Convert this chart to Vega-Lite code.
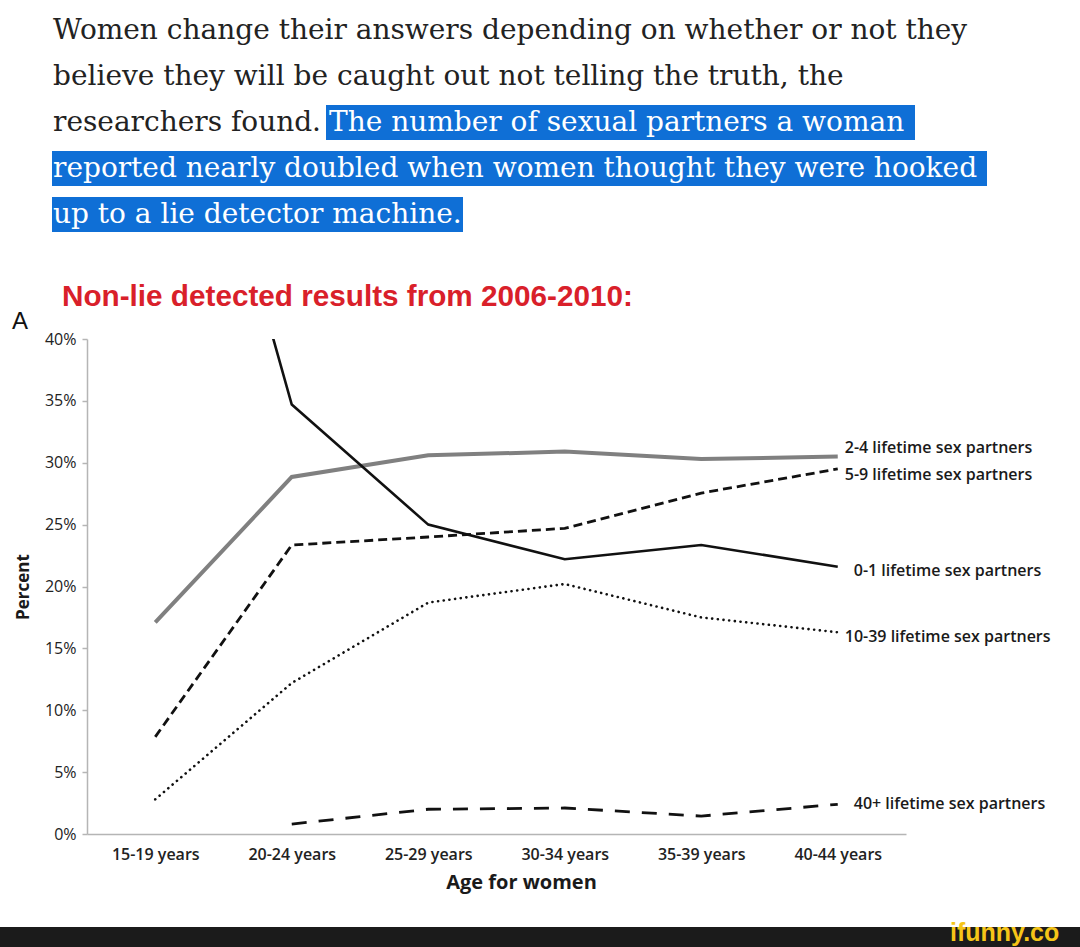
{
  "$schema": "https://vega.github.io/schema/vega-lite/v6.json",
  "width": 819,
  "height": 495,
  "autosize": "none",
  "padding": {"left": 87, "top": 339, "right": 174, "bottom": 113},
  "background": "white",
  "title": {
    "text": "Non-lie detected results from 2006-2010:",
    "anchor": "start",
    "frame": "group",
    "dx": -25,
    "offset": -296,
    "font": "Liberation Sans",
    "fontSize": 29.7,
    "fontWeight": "bold",
    "color": "#d9202a"
  },
  "config": {
    "view": {"stroke": null},
    "axis": {
      "domainColor": "#b5b5b5",
      "domainWidth": 1.5,
      "tickColor": "#b5b5b5",
      "tickWidth": 1.5,
      "grid": false,
      "labelFont": "Open Sans",
      "titleFont": "Open Sans",
      "labelColor": "#222222",
      "titleColor": "#1a1a1a"
    }
  },
  "datasets": {
    "rates": [
      {"age": "15-19 years", "series": "0-1", "pct": 74.0},
      {"age": "20-24 years", "series": "0-1", "pct": 34.7},
      {"age": "25-29 years", "series": "0-1", "pct": 25.0},
      {"age": "30-34 years", "series": "0-1", "pct": 22.2},
      {"age": "35-39 years", "series": "0-1", "pct": 23.35},
      {"age": "40-44 years", "series": "0-1", "pct": 21.6},
      {"age": "15-19 years", "series": "2-4", "pct": 17.1},
      {"age": "20-24 years", "series": "2-4", "pct": 28.85},
      {"age": "25-29 years", "series": "2-4", "pct": 30.6},
      {"age": "30-34 years", "series": "2-4", "pct": 30.9},
      {"age": "35-39 years", "series": "2-4", "pct": 30.3},
      {"age": "40-44 years", "series": "2-4", "pct": 30.5},
      {"age": "15-19 years", "series": "5-9", "pct": 7.85},
      {"age": "20-24 years", "series": "5-9", "pct": 23.35},
      {"age": "25-29 years", "series": "5-9", "pct": 24.0},
      {"age": "30-34 years", "series": "5-9", "pct": 24.7},
      {"age": "35-39 years", "series": "5-9", "pct": 27.55},
      {"age": "40-44 years", "series": "5-9", "pct": 29.5},
      {"age": "15-19 years", "series": "10-39", "pct": 2.8},
      {"age": "20-24 years", "series": "10-39", "pct": 12.2},
      {"age": "25-29 years", "series": "10-39", "pct": 18.7},
      {"age": "30-34 years", "series": "10-39", "pct": 20.2},
      {"age": "35-39 years", "series": "10-39", "pct": 17.5},
      {"age": "40-44 years", "series": "10-39", "pct": 16.3},
      {"age": "20-24 years", "series": "40+", "pct": 0.8},
      {"age": "25-29 years", "series": "40+", "pct": 2.0},
      {"age": "30-34 years", "series": "40+", "pct": 2.1},
      {"age": "35-39 years", "series": "40+", "pct": 1.45},
      {"age": "40-44 years", "series": "40+", "pct": 2.4}
    ],
    "labels": [
      {"age": "40-44 years", "series": "2-4", "labelPct": 31.2, "label": "2-4 lifetime sex partners", "group": "near"},
      {"age": "40-44 years", "series": "5-9", "labelPct": 29.0, "label": "5-9 lifetime sex partners", "group": "near"},
      {"age": "40-44 years", "series": "0-1", "labelPct": 21.25, "label": "0-1 lifetime sex partners", "group": "far"},
      {"age": "40-44 years", "series": "10-39", "labelPct": 15.9, "label": "10-39 lifetime sex partners", "group": "near"},
      {"age": "40-44 years", "series": "40+", "labelPct": 2.4, "label": "40+ lifetime sex partners", "group": "far"}
    ],
    "boxes": [
      {"line": 3, "x0": 326, "x1": 915, "top": 105, "bottom": 140},
      {"line": 4, "x0": 52, "x1": 987, "top": 151, "bottom": 186},
      {"line": 5, "x0": 52, "x1": 463, "top": 197, "bottom": 232}
    ],
    "para": [
      {"line": 1, "tone": "plain", "tx": 53, "base": 39, "text": "Women change their answers depending on whether or not they"},
      {"line": 2, "tone": "plain", "tx": 53, "base": 85, "text": "believe they will be caught out not telling the truth, the"},
      {"line": 3, "tone": "plain", "tx": 53, "base": 131, "text": "researchers found."},
      {"line": 3, "tone": "marked", "tx": 329, "base": 131, "text": "The number of sexual partners a woman"},
      {"line": 4, "tone": "marked", "tx": 53, "base": 177, "text": "reported nearly doubled when women thought they were hooked"},
      {"line": 5, "tone": "marked", "tx": 53, "base": 223, "text": "up to a lie detector machine."}
    ],
    "panel": [
      {"tx": 12, "base": 329, "text": "A"}
    ],
    "bar": [
      {"x0": 0, "x1": 1080, "top": 927, "bottom": 947}
    ],
    "brand": [
      {"tx": 950, "base": 941, "text": "ifunny.co"}
    ]
  },
  "layer": [
    {
      "layer": [
        {
          "data": {"name": "boxes"},
          "mark": {"type": "rect", "color": "#0f6fd6"},
          "encoding": {
            "x": {"field": "x0", "type": "quantitative", "scale": {"domain": [87, 906], "nice": false, "zero": false}, "axis": null},
            "x2": {"field": "x1"},
            "y": {"field": "top", "type": "quantitative", "scale": {"domain": [339, 834], "nice": false, "zero": false, "reverse": true}, "axis": null},
            "y2": {"field": "bottom"}
          }
        },
        {
          "data": {"name": "bar"},
          "mark": {"type": "rect", "color": "#1b1b1b"},
          "encoding": {
            "x": {"field": "x0", "type": "quantitative", "axis": null},
            "x2": {"field": "x1"},
            "y": {"field": "top", "type": "quantitative", "axis": null},
            "y2": {"field": "bottom"}
          }
        },
        {
          "data": {"name": "para"},
          "mark": {"type": "text", "align": "left", "baseline": "alphabetic", "font": "DejaVu Serif", "fontSize": 28},
          "encoding": {
            "x": {"field": "tx", "type": "quantitative", "axis": null},
            "y": {"field": "base", "type": "quantitative", "axis": null},
            "text": {"field": "text"},
            "color": {"field": "tone", "type": "nominal", "scale": {"domain": ["plain", "marked"], "range": ["#222222", "#ffffff"]}, "legend": null}
          }
        },
        {
          "data": {"name": "panel"},
          "mark": {"type": "text", "align": "left", "baseline": "alphabetic", "font": "Liberation Sans", "fontSize": 24, "color": "#111111"},
          "encoding": {
            "x": {"field": "tx", "type": "quantitative", "axis": null},
            "y": {"field": "base", "type": "quantitative", "axis": null},
            "text": {"field": "text"}
          }
        },
        {
          "data": {"name": "brand"},
          "mark": {"type": "text", "align": "left", "baseline": "alphabetic", "font": "Liberation Sans", "fontSize": 25, "fontWeight": "bold", "color": "#f5c518"},
          "encoding": {
            "x": {"field": "tx", "type": "quantitative", "axis": null},
            "y": {"field": "base", "type": "quantitative", "axis": null},
            "text": {"field": "text"}
          }
        }
      ]
    },
    {
      "data": {"name": "rates"},
      "layer": [
        {
          "transform": [{"filter": "datum.series === '2-4'"}],
          "mark": {"type": "line", "color": "#808080", "strokeWidth": 4, "clip": true},
          "encoding": {
            "x": {
              "field": "age", "type": "ordinal", "sort": null, "title": "Age for women",
              "scale": {"type": "point", "padding": 0.5},
              "axis": {"ticks": false, "labelPadding": 12, "labelFontSize": 16, "labelFontWeight": 600, "titleFontSize": 20, "titleFontWeight": "bold", "titlePadding": 10, "titleX": 434, "labelAngle": 0}
            },
            "y": {
              "field": "pct", "type": "quantitative", "title": "Percent",
              "scale": {"domain": [0, 40], "nice": false, "zero": true},
              "axis": {"values": [0, 5, 10, 15, 20, 25, 30, 35, 40], "labelExpr": "datum.value + '%'", "tickSize": 5, "labelPadding": 6, "labelFontSize": 16, "titleFontSize": 17, "titleFontWeight": "bold", "titlePadding": 12}
            }
          }
        },
        {
          "transform": [{"filter": "datum.series === '0-1'"}],
          "mark": {"type": "line", "color": "#111111", "strokeWidth": 2.6, "clip": true},
          "encoding": {
            "x": {"field": "age", "type": "ordinal", "sort": null, "title": "Age for women"},
            "y": {"field": "pct", "type": "quantitative", "title": "Percent"}
          }
        },
        {
          "transform": [{"filter": "datum.series === '5-9'"}],
          "mark": {"type": "line", "color": "#111111", "strokeWidth": 2.8, "strokeDash": [9, 5], "clip": true},
          "encoding": {
            "x": {"field": "age", "type": "ordinal", "sort": null, "title": "Age for women"},
            "y": {"field": "pct", "type": "quantitative", "title": "Percent"}
          }
        },
        {
          "transform": [{"filter": "datum.series === '10-39'"}],
          "mark": {"type": "line", "color": "#111111", "strokeWidth": 2.6, "strokeDash": [0.1, 5.6], "strokeCap": "round", "clip": true},
          "encoding": {
            "x": {"field": "age", "type": "ordinal", "sort": null, "title": "Age for women"},
            "y": {"field": "pct", "type": "quantitative", "title": "Percent"}
          }
        },
        {
          "transform": [{"filter": "datum.series === '40+'"}],
          "mark": {"type": "line", "color": "#111111", "strokeWidth": 2.8, "strokeDash": [15, 12], "clip": true},
          "encoding": {
            "x": {"field": "age", "type": "ordinal", "sort": null, "title": "Age for women"},
            "y": {"field": "pct", "type": "quantitative", "title": "Percent"}
          }
        },
        {
          "data": {"name": "labels"},
          "transform": [{"filter": "datum.group === 'near'"}],
          "mark": {"type": "text", "align": "left", "baseline": "middle", "dx": 7, "font": "Open Sans", "fontSize": 16, "fontWeight": 600, "color": "#1a1a1a"},
          "encoding": {
            "x": {"field": "age", "type": "ordinal", "sort": null, "title": "Age for women"},
            "y": {"field": "labelPct", "type": "quantitative", "title": "Percent"},
            "text": {"field": "label"}
          }
        },
        {
          "data": {"name": "labels"},
          "transform": [{"filter": "datum.group === 'far'"}],
          "mark": {"type": "text", "align": "left", "baseline": "middle", "dx": 16, "font": "Open Sans", "fontSize": 16, "fontWeight": 600, "color": "#1a1a1a"},
          "encoding": {
            "x": {"field": "age", "type": "ordinal", "sort": null, "title": "Age for women"},
            "y": {"field": "labelPct", "type": "quantitative", "title": "Percent"},
            "text": {"field": "label"}
          }
        }
      ]
    }
  ],
  "resolve": {"scale": {"x": "independent", "y": "independent", "color": "independent"}}
}
